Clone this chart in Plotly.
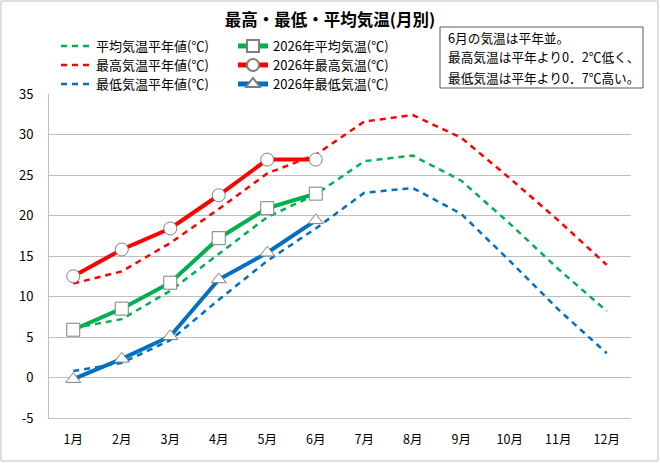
import plotly.graph_objects as go

months = ["1月", "2月", "3月", "4月", "5月", "6月", "7月", "8月", "9月", "10月", "11月", "12月"]
avg_normal = [6.1, 7.2, 10.7, 15.3, 19.8, 22.6, 26.7, 27.4, 24.3, 19.0, 13.4, 8.2]
max_normal = [11.6, 13.1, 16.6, 20.8, 25.2, 27.5, 31.6, 32.4, 29.6, 24.6, 19.4, 13.9]
min_normal = [0.8, 1.8, 4.6, 9.6, 14.4, 18.4, 22.8, 23.4, 20.2, 14.4, 8.4, 3.0]
months_2026 = ["1月", "2月", "3月", "4月", "5月", "6月"]
avg_2026 = [5.9, 8.5, 11.7, 17.2, 20.9, 22.7]
max_2026 = [12.5, 15.8, 18.4, 22.5, 26.9, 26.9]
min_2026 = [-0.2, 2.3, 5.1, 12.1, 15.4, 19.4]
y_ticks = [-5, 0, 5, 10, 15, 20, 25, 30, 35]
y_ticktext = ["-5", "0", "5", "10", "15", "20", "25", "30", "35"]

GREEN = "#00B050"
RED = "#FF0000"
BLUE = "#0070C0"
FONT = "Noto Sans CJK JP"


def px_x(px):
    return (px - 49) / 582


def px_y(py):
    return (418 - py) / 324


fig = go.Figure()
legend_defs = {}
row_tops = [31, 50, 69]
for i, (name, vals, col) in enumerate([("平均気温平年値(℃)", avg_normal, GREEN),
                                       ("最高気温平年値(℃)", max_normal, RED),
                                       ("最低気温平年値(℃)", min_normal, BLUE)]):
    lg = "legend" if i == 0 else "legend%d" % (i + 1)
    legend_defs[lg] = dict(x=px_x(56), y=px_y(row_tops[i]), itemsizing="trace")
    fig.add_trace(go.Scatter(x=months, y=vals, name=name, mode="lines",
                             line=dict(color=col, width=2.5, dash="6px,5px"),
                             legend=lg))
for i, (name, vals, col, sym) in enumerate([("2026年平均気温(℃)", avg_2026, GREEN, "square"),
                                            ("2026年最高気温(℃)", max_2026, RED, "circle"),
                                            ("2026年最低気温(℃)", min_2026, BLUE, "triangle-up")]):
    lg = "legend%d" % (i + 4)
    legend_defs[lg] = dict(x=px_x(233), y=px_y(row_tops[i]), itemsizing="constant")
    fig.add_trace(go.Scatter(x=months_2026, y=vals, name=name, mode="lines+markers",
                             line=dict(color=col, width=4),
                             marker=dict(symbol=sym, size=13, color="white",
                                         line=dict(color="#7F7F7F", width=1)),
                             legend=lg))

layout_legends = {}
for lg, pos in legend_defs.items():
    layout_legends[lg] = dict(x=pos["x"], y=pos["y"], xanchor="left", yanchor="top",
                              bgcolor="rgba(0,0,0,0)", font=dict(size=13),
                              itemsizing=pos["itemsizing"])

fig.update_layout(
    width=660, height=463,
    margin=dict(l=49, r=29, t=94, b=45),
    paper_bgcolor="white", plot_bgcolor="white",
    font=dict(family=FONT, size=13, color="black"),
    title=dict(text="<b>最高・最低・平均気温(月別)</b>", x=0.5, xanchor="center",
               y=1 - 20 / 463, yanchor="middle", font=dict(size=16.5, family=FONT)),
    showlegend=True,
    xaxis=dict(type="category", categoryorder="array", categoryarray=months,
               range=[-0.5, 11.5],
               showgrid=False, showline=True, linecolor="#BFBFBF", linewidth=1,
               ticks="", ticklabelstandoff=10, tickfont=dict(size=12.5)),
    yaxis=dict(range=[-5, 35], tickmode="array", tickvals=y_ticks, ticktext=y_ticktext,
               showgrid=True, gridcolor="#BFBFBF",
               gridwidth=1, zeroline=False, showline=True, linecolor="#BFBFBF",
               ticks="", ticklabelstandoff=12, tickfont=dict(size=13)),
    **layout_legends,
)

fig.add_shape(type="rect", xref="paper", yref="paper",
              x0=px_x(1), x1=px_x(658), y0=px_y(461), y1=px_y(1),
              line=dict(color="#BFBFBF", width=1), fillcolor="rgba(0,0,0,0)", layer="below")
fig.add_shape(type="rect", xref="paper", yref="paper",
              x0=px_x(440), x1=px_x(643), y0=px_y(88), y1=px_y(27),
              line=dict(color="#595959", width=1), fillcolor="white")

note_lines = ["6月の気温は平年並。", "最高気温は平年より0．2℃低く、", "最低気温は平年より0．7℃高い。"]
for i, t in enumerate(note_lines):
    fig.add_annotation(text=t, xref="paper", yref="paper", x=px_x(446), y=px_y(37 + 20 * i),
                       xanchor="left", yanchor="middle", showarrow=False,
                       font=dict(size=12.7, family=FONT, color="black"))

fig.write_html("out.html")
